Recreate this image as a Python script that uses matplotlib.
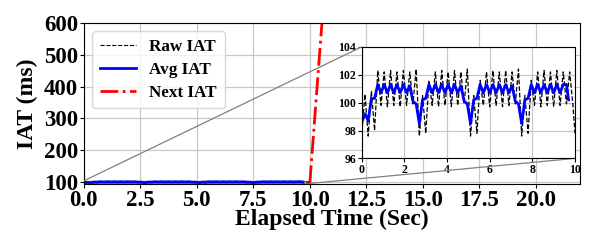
import matplotlib
matplotlib.use("Agg")
import matplotlib.pyplot as plt
from mpl_toolkits.axes_grid1.inset_locator import mark_inset

# ---- data ----
raw_t = [0.00, 0.15, 0.30, 0.45, 0.60, 0.75, 0.90, 1.05, 1.20, 1.35, 1.50, 1.65, 1.80, 1.95, 2.10, 2.25,
         2.40, 2.55, 2.70, 2.85, 3.00, 3.15, 3.30, 3.45, 3.60, 3.75, 3.90, 4.05, 4.20, 4.35, 4.50, 4.65,
         4.80, 4.95, 5.10, 5.25, 5.40, 5.55, 5.70, 5.85, 6.00, 6.15, 6.30, 6.45, 6.60, 6.75, 6.90, 7.05,
         7.20, 7.35, 7.50, 7.65, 7.80, 7.95, 8.10, 8.25, 8.40, 8.55, 8.70, 8.85, 9.00, 9.15, 9.30, 9.45,
         9.60, 9.75, 9.90, 10.00]
raw_iat = [97.8, 100.6, 97.6, 100.8, 98.0, 102.3, 99.8, 102.2, 99.7, 102.3, 99.8, 102.2, 99.7, 102.3, 99.8, 102.2,
           99.9, 102.4, 97.6, 100.5, 97.8, 101.6, 99.8, 102.2, 99.7, 102.3, 99.8, 102.2, 99.7, 102.3, 99.8, 102.2,
           99.9, 102.4, 97.6, 100.5, 97.8, 101.6, 99.8, 102.2, 99.7, 102.3, 99.8, 102.2, 99.7, 102.3, 99.8, 102.2,
           99.9, 102.4, 97.6, 100.5, 97.8, 101.6, 99.8, 102.2, 99.7, 102.3, 99.8, 102.2, 99.7, 102.3, 99.8, 102.2,
           99.9, 102.2, 99.9, 97.8]
avg_t = [0.00, 0.15, 0.30, 0.45, 0.60, 0.75, 0.90, 1.05, 1.20, 1.35, 1.50, 1.65, 1.80, 1.95, 2.10, 2.25,
         2.40, 2.55, 2.70, 2.85, 3.00, 3.15, 3.30, 3.45, 3.60, 3.75, 3.90, 4.05, 4.20, 4.35, 4.50, 4.65,
         4.80, 4.95, 5.10, 5.25, 5.40, 5.55, 5.70, 5.85, 6.00, 6.15, 6.30, 6.45, 6.60, 6.75, 6.90, 7.05,
         7.20, 7.35, 7.50, 7.65, 7.80, 7.95, 8.10, 8.25, 8.40, 8.55, 8.70, 8.85, 9.00, 9.15, 9.30, 9.45,
         9.60, 9.70]
avg_iat = [98.6, 99.2, 98.7, 100.3, 100.3, 101.3, 100.7, 101.3, 100.7, 101.3, 100.7, 101.3, 100.7, 101.3, 100.7, 101.2,
           100.1, 99.9, 98.5, 100.2, 100.3, 101.3, 100.7, 101.3, 100.7, 101.3, 100.7, 101.3, 100.7, 101.3, 100.7, 101.2,
           100.1, 99.9, 98.5, 100.2, 100.3, 101.3, 100.7, 101.3, 100.7, 101.3, 100.7, 101.3, 100.7, 101.3, 100.7, 101.2,
           100.1, 99.9, 98.5, 100.2, 100.3, 101.3, 100.7, 101.3, 100.7, 101.3, 100.7, 101.3, 100.7, 101.3, 100.7, 101.3,
           101.3, 100.2]
next_t = [10.0, 10.3, 10.6]
next_iat = [97.0, 380.0, 660.0]

main_xticks = [0.0, 2.5, 5.0, 7.5, 10.0, 12.5, 15.0, 17.5, 20.0]
main_yticks = [100, 200, 300, 400, 500, 600]
ins_xticks = [0, 2, 4, 6, 8, 10]
ins_yticks = [96, 98, 100, 102, 104]

plt.rcParams['font.family'] = ['Liberation Serif', 'DejaVu Serif']
plt.rcParams['font.weight'] = 'bold'

fig = plt.figure(figsize=(5.98, 2.40), dpi=100)
ax = fig.add_axes([0.140, 0.233, 0.830, 0.672])

ax.plot(raw_t, raw_iat, color='black', linestyle='--', linewidth=0.8, label='Raw IAT')
ax.plot(avg_t, avg_iat, color='blue', linestyle='-', linewidth=2.0, label='Avg IAT')
ax.plot(next_t, next_iat, color='red', linestyle='-.', linewidth=2.0, label='Next IAT')

ax.set_xlim(0, 21.95)
ax.set_ylim(94, 600)
ax.set_xticks(main_xticks)
ax.set_xticklabels([f"{v:.1f}" for v in main_xticks])
ax.set_yticks(main_yticks)
ax.tick_params(labelsize=16.5, length=3, pad=1)
for lbl in ax.get_xticklabels() + ax.get_yticklabels():
    lbl.set_fontweight('bold')
ax.grid(True, color='#c8c8c8', linewidth=0.9)
ax.set_axisbelow(True)
ax.set_xlabel('Elapsed Time (Sec)', fontsize=17, fontweight='bold', labelpad=-1)
ax.set_ylabel('IAT (ms)', fontsize=17, fontweight='bold', labelpad=4)

leg = ax.legend(loc='upper left', fontsize=12.3, frameon=True, borderaxespad=0.5,
                fancybox=True, edgecolor='#cccccc', handlelength=2.1, handletextpad=0.8,
                borderpad=0.45, labelspacing=0.4)
for t in leg.get_texts():
    t.set_fontweight('bold')

axins = fig.add_axes([0.605, 0.340, 0.3565, 0.465])
axins.plot(raw_t, raw_iat, color='black', linestyle='--', linewidth=0.9)
axins.plot(avg_t, avg_iat, color='blue', linestyle='-', linewidth=2.0)
axins.set_xlim(0, 10)
axins.set_ylim(96, 104)
axins.set_xticks(ins_xticks)
axins.set_yticks(ins_yticks)
axins.tick_params(labelsize=8.5, length=3, pad=1)
for lbl in axins.get_xticklabels() + axins.get_yticklabels():
    lbl.set_fontweight('bold')
axins.grid(True, color='#c8c8c8', linewidth=0.9)
axins.set_axisbelow(True)

mark_inset(ax, axins, loc1=2, loc2=4, fc='none', ec='0.5', lw=0.9)

fig.savefig('out.png', dpi=100)
